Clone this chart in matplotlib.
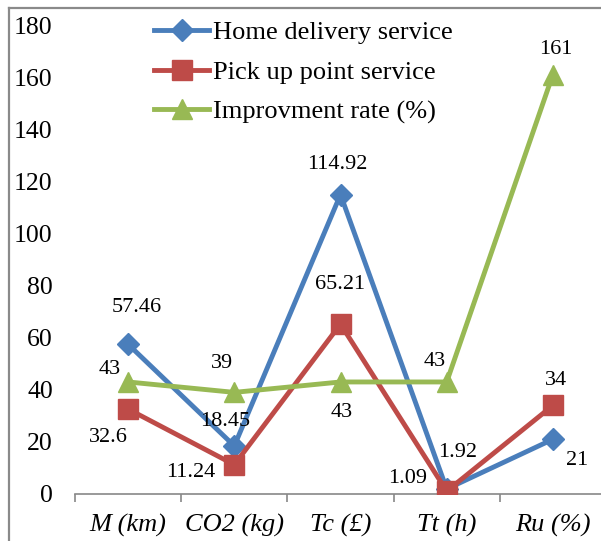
import matplotlib
matplotlib.use("Agg")
import matplotlib.pyplot as plt
from matplotlib.lines import Line2D

plt.rcParams['font.family'] = ['Liberation Serif', 'DejaVu Serif']

categories = ["M (km)", "CO2 (kg)", "Tc (£)", "Tt (h)", "Ru (%)"]
home_delivery = [57.46, 18.45, 114.92, 1.92, 21]
pickup_point = [32.6, 11.24, 65.21, 1.09, 34]
improvement = [43, 39, 43, 43, 161]
yticks = [0, 20, 40, 60, 80, 100, 120, 140, 160, 180]

# label offsets in pixels relative to each point
home_offsets = [(9, 37), (-9, 24), (-3, 30), (11, 36), (24, -21)]
pickup_offsets = [(-20, -28), (-44, -8), (0, 40), (-39, 13), (3, 25)]
improv_offsets = [(-18, 12), (-12, 29), (1, -31), (-12, 20), (3, 25)]

W, H = 601, 541
fig = plt.figure(figsize=(W / 100, H / 100), dpi=100)
ax = fig.add_axes([75 / W, (H - 494) / H, 531 / W, 469 / H])

x = list(range(len(categories)))
blue, red, green = "#4A7EBB", "#BE4B48", "#98B954"

ax.plot(x, home_delivery, color=blue, lw=3.5, marker="D", ms=11,
        label="Home delivery service", zorder=3)
ax.plot(x, pickup_point, color=red, lw=3.5, marker="s", ms=15,
        label="Pick up point service", zorder=3)
ax.plot(x, improvement, color=green, lw=3.5, marker="^", ms=15,
        label="Improvment rate (%)", zorder=3)

for vals, offs in ((home_delivery, home_offsets),
                   (pickup_point, pickup_offsets),
                   (improvement, improv_offsets)):
    for xi, v, (dx, dy) in zip(x, vals, offs):
        ax.annotate(f"{v:g}", (xi, v), xytext=(dx, dy),
                    textcoords="offset pixels", ha="center", va="center",
                    fontsize=16, zorder=5)

ax.set_xlim(-0.5, len(categories) - 0.5)
ax.set_ylim(0, 180)
ax.set_yticks(yticks)
ax.set_yticklabels([str(t) for t in yticks], fontsize=18.5)
ax.tick_params(axis="y", length=0, pad=16)

ax.set_xticks(x)
ax.set_xticklabels(categories, fontsize=19, style="italic")
ax.tick_params(axis="x", length=0, pad=14)
ax.set_xticks([i - 0.5 for i in range(len(categories) + 1)], minor=True)
ax.tick_params(axis="x", which="minor", length=6, width=1.2, color="#888888")

for side in ("top", "right", "left"):
    ax.spines[side].set_visible(False)
ax.spines["bottom"].set_color("#888888")
ax.spines["bottom"].set_linewidth(1.2)

leg = ax.legend(loc="upper left", bbox_to_anchor=(154 / W, 1 - 21 / H),
                bbox_transform=fig.transFigure, frameon=False, fontsize=19,
                handlelength=2.1, handletextpad=0.12, labelspacing=0.6,
                borderaxespad=0, borderpad=0)

# outer frame on the left and top edges
fig.add_artist(Line2D([9 / W, 9 / W], [0, 1 - 8 / H], transform=fig.transFigure,
                      color="#8A8A8A", lw=1.6))
fig.add_artist(Line2D([9 / W, 1], [1 - 8 / H, 1 - 8 / H], transform=fig.transFigure,
                      color="#8A8A8A", lw=1.6))

fig.savefig("out.png", dpi=100)
